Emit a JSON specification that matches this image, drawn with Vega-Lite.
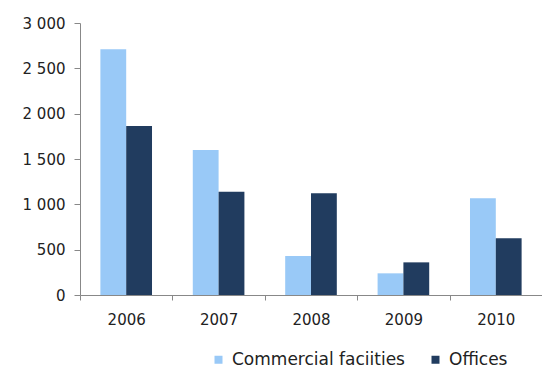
{
  "$schema": "https://vega.github.io/schema/vega-lite/v6.json",
  "autosize": {"type": "none"},
  "width": 462,
  "height": 272,
  "padding": {"left": 80, "top": 23, "right": 0, "bottom": 76},
  "background": "white",
  "config": {"view": {"stroke": null}, "font": "DejaVu Sans"},
  "data": {"values": [
    {"year": "2006", "series": "Commercial faciities", "value": 2710},
    {"year": "2006", "series": "Offices", "value": 1864},
    {"year": "2007", "series": "Commercial faciities", "value": 1599},
    {"year": "2007", "series": "Offices", "value": 1139},
    {"year": "2008", "series": "Commercial faciities", "value": 430},
    {"year": "2008", "series": "Offices", "value": 1122},
    {"year": "2009", "series": "Commercial faciities", "value": 239},
    {"year": "2009", "series": "Offices", "value": 360},
    {"year": "2010", "series": "Commercial faciities", "value": 1066},
    {"year": "2010", "series": "Offices", "value": 625}
  ]},
  "mark": {"type": "bar"},
  "encoding": {
    "x": {
      "field": "year", "type": "nominal",
      "scale": {"paddingInner": 0, "paddingOuter": 0},
      "axis": {
        "title": null, "labelAngle": 0, "labelFontSize": 15, "labelColor": "#222",
        "domainColor": "#888", "tickColor": "#888", "tickSize": 5, "tickBand": "extent",
        "labelPadding": 12, "labelFont": "DejaVu Sans"
      }
    },
    "xOffset": {
      "field": "series", "type": "nominal",
      "scale": {"paddingInner": 0, "paddingOuter": 0.79}
    },
    "y": {
      "field": "value", "type": "quantitative",
      "scale": {"domain": [0, 3000], "nice": false},
      "axis": {
        "title": null, "values": [0, 500, 1000, 1500, 2000, 2500, 3000],
        "grid": false, "labelFontSize": 15, "labelColor": "#222",
        "domainColor": "#888", "tickColor": "#888", "tickSize": 6, "labelPadding": 9,
        "labelExpr": "replace(datum.label, ',', ' ')", "labelFont": "DejaVu Sans"
      }
    },
    "color": {
      "field": "series", "type": "nominal",
      "scale": {"domain": ["Commercial faciities", "Offices"], "range": ["#99c9f7", "#213c5f"]},
      "legend": {
        "title": null, "orient": "none", "legendX": 130, "legendY": 328,
        "direction": "horizontal", "symbolType": "square", "symbolSize": 64,
        "labelFontSize": 17, "labelColor": "#222", "columnPadding": 22,
        "labelFont": "DejaVu Sans", "symbolStrokeWidth": 0, "labelOffset": 5, "labelLimit": 0
      }
    }
  }
}
